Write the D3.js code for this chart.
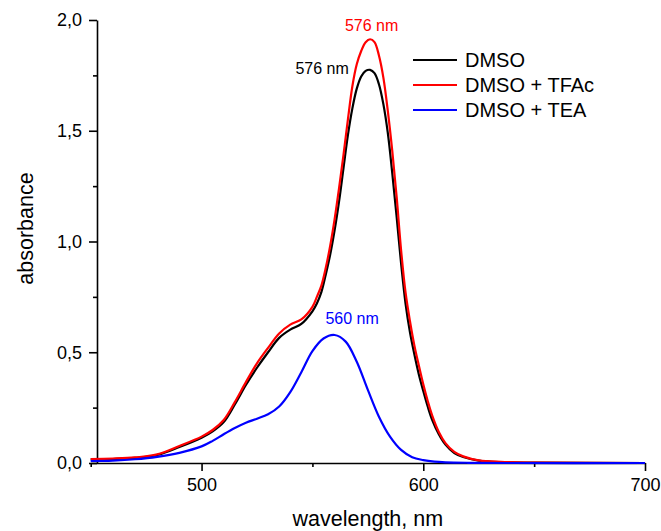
<!DOCTYPE html>
<html>
<head>
<meta charset="utf-8">
<script src="https://cdn.jsdelivr.net/npm/d3@7"></script>
<style>
  body { margin: 0; background: #fff; }
  svg { display: block; font-family: Arial, "Liberation Sans", sans-serif; }
</style>
</head>
<body>
<div id="chart"></div>
<script>
// wavelength (nm) / absorbance
const dmso = [
  [450, 0.016], [460, 0.018], [470, 0.023], [480, 0.036], [490, 0.072],
  [500, 0.114], [505, 0.143], [510, 0.185], [515, 0.264], [520, 0.352],
  [525, 0.43], [530, 0.5], [535, 0.565], [540, 0.602], [545, 0.628],
  [550, 0.685], [552, 0.72], [554, 0.77], [556, 0.85], [558, 0.94],
  [560, 1.05], [562, 1.18], [564, 1.33], [566, 1.48], [568, 1.6],
  [570, 1.69], [572, 1.745], [574, 1.77], [576, 1.775], [578, 1.76],
  [580, 1.71], [582, 1.62], [584, 1.49], [586, 1.31], [588, 1.11],
  [590, 0.9], [592, 0.72], [594, 0.59], [596, 0.49], [598, 0.4],
  [600, 0.325], [602, 0.255], [604, 0.195], [607, 0.13], [610, 0.083],
  [614, 0.045], [618, 0.027], [625, 0.011], [635, 0.004], [650, 0.002],
  [700, 0.0]
];
const dmsoTfac = [
  [450, 0.018], [460, 0.02], [470, 0.025], [480, 0.039], [490, 0.077],
  [500, 0.119], [505, 0.149], [510, 0.194], [515, 0.275], [520, 0.365],
  [525, 0.45], [530, 0.52], [535, 0.585], [540, 0.625], [545, 0.648],
  [550, 0.705], [552, 0.75], [554, 0.8], [556, 0.88], [558, 0.98],
  [560, 1.1], [562, 1.24], [564, 1.39], [566, 1.55], [568, 1.7],
  [570, 1.8], [572, 1.86], [574, 1.9], [576, 1.913], [578, 1.9],
  [580, 1.84], [582, 1.74], [584, 1.59], [586, 1.41], [588, 1.2],
  [590, 0.96], [592, 0.77], [594, 0.64], [596, 0.53], [598, 0.44],
  [600, 0.355], [602, 0.28], [604, 0.215], [607, 0.14], [610, 0.09],
  [614, 0.05], [618, 0.03], [625, 0.012], [635, 0.005], [650, 0.002],
  [700, 0.0]
];
const dmsoTea = [
  [450, 0.009], [460, 0.011], [470, 0.017], [480, 0.028], [490, 0.046],
  [500, 0.075], [505, 0.1], [510, 0.13], [515, 0.158], [520, 0.182],
  [525, 0.2], [530, 0.22], [535, 0.255], [540, 0.32], [545, 0.41],
  [550, 0.505], [555, 0.562], [560, 0.578], [565, 0.548], [570, 0.457],
  [575, 0.33], [580, 0.209], [585, 0.119], [590, 0.059], [595, 0.026],
  [600, 0.013], [605, 0.006], [610, 0.003], [620, 0.001], [640, 0.0],
  [700, 0.0]
];

const seriesNames = ["DMSO", "DMSO + TFAc", "DMSO + TEA"];
const seriesColors = ["#000000", "#ff0000", "#0000ff"];
const peakLabels = [
  { text: "576 nm", wl: 576, value: 1.775, color: "#000000" },
  { text: "576 nm", wl: 576, value: 1.913, color: "#ff0000" },
  { text: "560 nm", wl: 560, value: 0.578, color: "#0000ff" }
];
const xMajor = [500, 600, 700];
const xMinor = [450, 550, 650];
const yMajor = [0, 0.5, 1.0, 1.5, 2.0];
const yMinor = [0.25, 0.75, 1.25, 1.75];

const width = 661, height = 531;
const svg = d3.select("#chart").append("svg")
  .attr("width", width).attr("height", height);

const x = d3.scaleLinear().domain([450, 700]).range([90.7, 645]);
const y = d3.scaleLinear().domain([0, 2]).range([463, 20]);

const comma = d3.formatLocale({ decimal: ",", thousands: ".", grouping: [3], currency: ["", ""] });
const f1 = comma.format(".1f");

// x axis
const gx = svg.append("g").attr("transform", `translate(0,${y(0)})`);
gx.call(d3.axisBottom(x).tickValues(xMajor).tickSize(8).tickSizeOuter(0).tickPadding(7));
gx.append("g").call(d3.axisBottom(x).tickValues(xMinor).tickSize(4).tickFormat(""))
  .call(g => g.select(".domain").remove());

// y axis, offset from the start of the x range
const gy = svg.append("g").attr("transform", "translate(97,0)");
gy.call(d3.axisLeft(y).tickValues(yMajor).tickFormat(f1).tickSize(8).tickSizeOuter(0).tickPadding(7));
gy.append("g").call(d3.axisLeft(y).tickValues(yMinor).tickSize(4).tickFormat(""))
  .call(g => g.select(".domain").remove());

svg.selectAll(".domain, .tick line").attr("stroke", "#000").attr("stroke-width", 1.6);
svg.selectAll(".tick text").attr("font-size", 18).attr("fill", "#000")
  .attr("font-family", "Arial, 'Liberation Sans', sans-serif");

// axis titles
svg.append("text")
  .attr("x", (x.range()[0] + x.range()[1]) / 2).attr("y", 526)
  .attr("text-anchor", "middle").attr("font-size", 21.5)
  .text("wavelength, nm");
svg.append("text")
  .attr("transform", "translate(33,228.5) rotate(-90)")
  .attr("text-anchor", "middle").attr("font-size", 21.5)
  .text("absorbance");

// curves
const line = d3.line().x(d => x(d[0])).y(d => y(d[1])).curve(d3.curveCatmullRom.alpha(0.5));
[dmso, dmsoTfac, dmsoTea].forEach((s, i) => {
  svg.append("path").datum(s)
    .attr("fill", "none")
    .attr("stroke", seriesColors[i])
    .attr("stroke-width", 2.2)
    .attr("d", line);
});

// peak labels
const labelPos = [
  { dx: -48, dy: 4, anchor: "middle" },
  { dx: 1.5, dy: -8.5, anchor: "middle" },
  { dx: 17.5, dy: -11, anchor: "middle" }
];
peakLabels.forEach((p, i) => {
  svg.append("text")
    .attr("x", x(p.wl) + labelPos[i].dx)
    .attr("y", y(p.value) + labelPos[i].dy)
    .attr("text-anchor", labelPos[i].anchor)
    .attr("font-size", 16)
    .attr("fill", p.color)
    .text(p.text);
});

// legend
const legend = svg.append("g").attr("transform", "translate(413,60)");
seriesNames.forEach((name, i) => {
  const row = legend.append("g").attr("transform", `translate(0,${i * 25})`);
  row.append("line").attr("x1", 0).attr("x2", 44)
    .attr("stroke", seriesColors[i]).attr("stroke-width", 2.2);
  row.append("text").attr("x", 52).attr("y", 7)
    .attr("font-size", 20).attr("fill", "#000").text(name);
});
</script>
</body>
</html>
